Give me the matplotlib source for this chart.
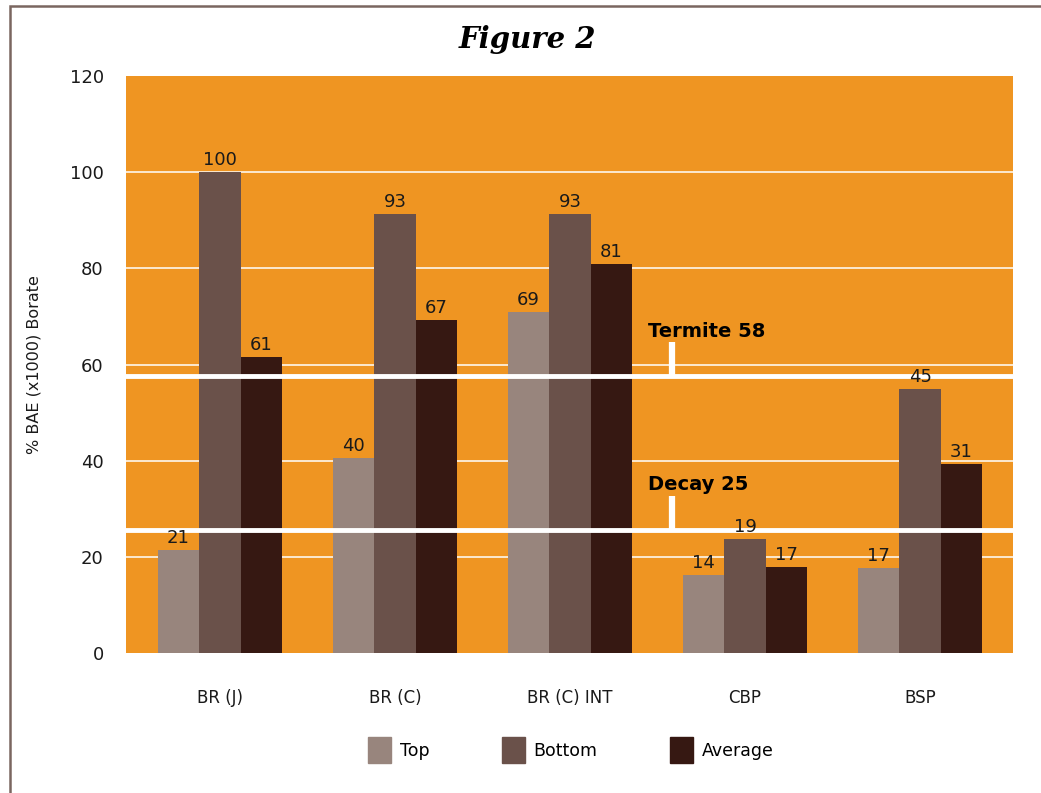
import matplotlib.pyplot as plt
from matplotlib.patches import Patch, Rectangle
import numpy as np

categories = ['BR (J)', 'BR (C)', 'BR (C) INT', 'CBP', 'BSP']
top = [21.5, 40.5, 71.0, 16.2, 17.6]
bottom = [100.0, 91.3, 91.3, 23.8, 55.0]
average = [61.5, 69.2, 81.0, 17.9, 39.3]
top_labels = ['21', '40', '69', '14', '17']
bottom_labels = ['100', '93', '93', '19', '45']
average_labels = ['61', '67', '81', '17', '31']
termite = 57.6
decay = 25.6

orange = '#EF9522'
c_top = '#98857D'
c_bottom = '#6A514A'
c_avg = '#361812'

fig = plt.figure(figsize=(10.41, 7.93), dpi=100)
ax = fig.add_axes([126 / 1041, 1 - 653 / 793, (1013 - 126) / 1041, (653 - 76) / 793])
ax.set_facecolor(orange)

# frame around the figure
fig.add_artist(Rectangle((10 / 1041, -0.1), 1.2, 1 - 6 / 793 + 0.1, transform=fig.transFigure,
                         fill=False, edgecolor='#7A6660', linewidth=1.8))

x = np.arange(len(categories))
w = 0.237
series = [(top, top_labels, c_top, 'Top'),
          (bottom, bottom_labels, c_bottom, 'Bottom'),
          (average, average_labels, c_avg, 'Average')]
for k, (vals, labs, col, name) in enumerate(series):
    pos = x + (k - 1) * w
    ax.bar(pos, vals, width=w, color=col, zorder=2, label=name)
    for p, v, t in zip(pos, vals, labs):
        ax.text(p, v + 0.6, t, ha='center', va='bottom', fontsize=13, color='#1a1a1a', zorder=4)

ax.set_xlim(-0.537, 4.531)
ax.set_ylim(0, 120)
ax.set_yticks([0, 20, 40, 60, 80, 100, 120])
for g in [20, 40, 60, 80, 100]:
    ax.axhline(g, color='#FCE9CF', linewidth=1.4, zorder=1)

# threshold lines
for val, name in [(termite, 'Termite 58'), (decay, 'Decay 25')]:
    ax.axhline(val, color='white', linewidth=3.5, zorder=3)
    ax.plot([2.583, 2.583], [val, val + 7.1], color='white', linewidth=4.5, zorder=3,
            solid_capstyle='butt')
    ax.text(2.446, val + 8.2, name, fontsize=14, fontweight='bold', color='black',
            ha='left', va='baseline', zorder=4)

for s in ax.spines.values():
    s.set_visible(False)
ax.tick_params(axis='both', length=0, labelsize=13, colors='#1a1a1a')
ax.tick_params(axis='y', pad=16)
ax.set_xticks(x)
ax.set_xticklabels(categories, fontsize=12)
ax.tick_params(axis='x', pad=26)
ax.set_ylabel('% BAE (x1000) Borate', fontsize=11.5, labelpad=20, color='#1a1a1a')

fig.text(527 / 1041, 1 - 40 / 793, 'Figure 2', ha='center', va='center', fontsize=21,
         fontweight='bold', fontstyle='italic', family='DejaVu Serif')

handles = [Patch(color=c_top, label='Top'), Patch(color=c_bottom, label='Bottom'),
           Patch(color=c_avg, label='Average')]
fig.legend(handles=handles, loc='center', bbox_to_anchor=(571 / 1041, 1 - 750 / 793),
           ncol=3, frameon=False, fontsize=12.5, handlelength=1.3, handleheight=1.9,
           columnspacing=4.2, handletextpad=0.5)

fig.savefig('out.png', dpi=100)
